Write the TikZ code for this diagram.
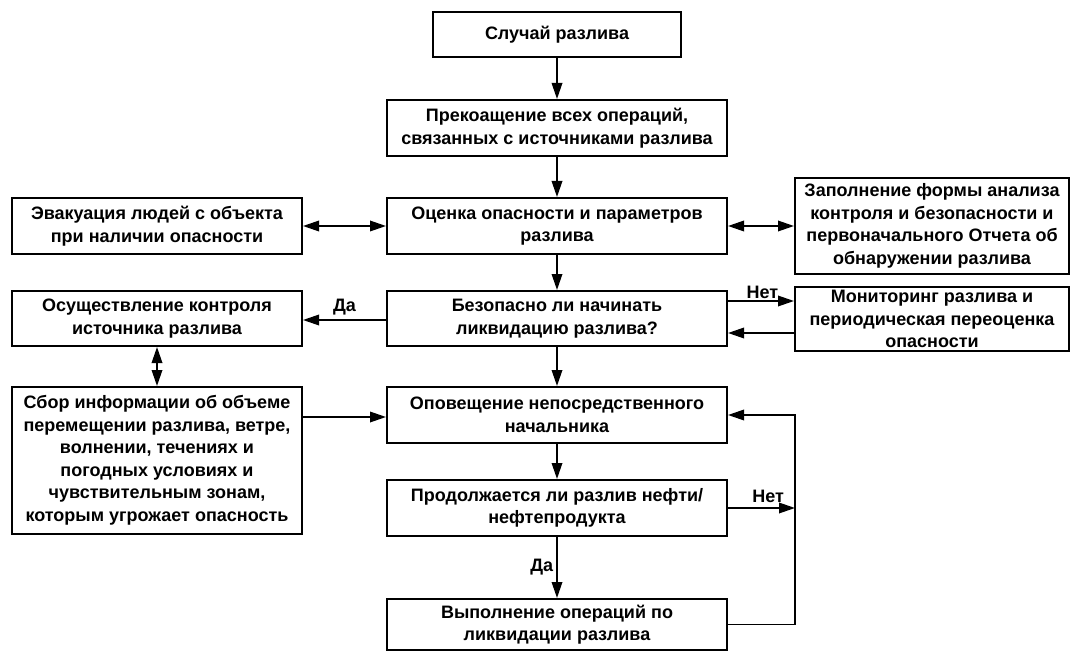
\documentclass[tikz,border=0pt]{standalone}
\usepackage{fontspec}
\setmainfont{Liberation Sans}
\usepackage{tikz}
\usetikzlibrary{arrows.meta, calc}

\begin{document}
\begin{tikzpicture}[x=1pt, y=-1pt, line width=1.8pt,
		box/.style={draw, line width=2pt, align=center, inner sep=2pt, font=\fontsize{18}{22.5}\selectfont\bfseries},
		arr/.style={-{Triangle[length=16pt, width=10.5pt]}},
		darr/.style={{Triangle[length=16pt, width=10.5pt]}-{Triangle[length=16pt, width=10.5pt]}},
		lbl/.style={font=\fontsize{18}{20}\selectfont\bfseries, inner sep=1pt}]
		\useasboundingbox (0,0) rectangle (1070,652);

		% middle column
		\node[box, minimum width=248pt, minimum height=45pt] (spill) at (557,34.5) {Случай разлива};
		\node[box, minimum width=340pt, minimum height=56pt] (stop) at (557,128) {Прекоащение всех операций,\\связанных с источниками разлива};
		\node[box, minimum width=340pt, minimum height=56pt] (assess) at (557,226) {Оценка опасности и параметров\\разлива};
		\node[box, minimum width=340pt, minimum height=55pt] (safe) at (557,318.5) {Безопасно ли начинать\\ликвидацию разлива?};
		\node[box, minimum width=340pt, minimum height=56pt] (notify) at (557,415) {Оповещение непосредственного\\начальника};
		\node[box, minimum width=340pt, minimum height=56pt] (cont) at (557,508) {Продолжается ли разлив нефти/\\нефтепродукта};
		\node[box, minimum width=340pt, minimum height=51pt] (clean) at (557,624.5) {Выполнение операций по\\ликвидации разлива};

		% left column
		\node[box, minimum width=290pt, minimum height=56pt] (evac) at (157,226) {Эвакуация людей с объекта\\при наличии опасности};
		\node[box, minimum width=290pt, minimum height=55pt] (source) at (157,318.5) {Осуществление контроля\\источника разлива};
		\node[box, minimum width=290pt, minimum height=147pt] (info) at (157,460.5) {Сбор информации об объеме\\перемещении разлива, ветре,\\волнении, течениях и\\погодных условиях и\\чувствительным зонам,\\которым угрожает опасность};

		% right column
		\node[box, minimum width=274pt, minimum height=96pt] (form) at (932,226) {Заполнение формы анализа\\контроля и безопасности и\\первоначального Отчета об\\обнаружении разлива};
		\node[box, minimum width=274pt, minimum height=64pt] (monitor) at (932,319) {Мониторинг разлива и\\периодическая переоценка\\опасности};

		\coordinate (loop) at (795,508);

		\draw[arr] (spill) -- (stop);
		\draw[arr] (stop) -- (assess);
		\draw[arr] (assess) -- (safe);
		\draw[arr] (safe) -- (notify);
		\draw[arr] (notify) -- (cont);
		\draw[arr] (cont) -- node[lbl, left=2pt] {Да} (clean);

		\draw[darr] (evac) -- (assess);
		\draw[darr] (assess) -- (form);
		\draw[arr] (safe.west |- 0,320) -- node[lbl, above=3pt] {Да} (source.east |- 0,320);
		\draw[arr] (safe.east |- 0,301) -- node[lbl, above, pos=0.52] {Нет} (monitor.west |- 0,301);
		\draw[arr] (monitor.west |- 0,333) -- (safe.east |- 0,333);
		\draw[darr] (source) -- (info);
		\draw[arr] (info.east |- 0,417) -- (notify.west |- 0,417);

		\draw[arr] (cont.east) -- node[lbl, above=3pt, pos=0.6] {Нет} (loop);
		\draw[arr] (clean.east) -| (loop) |- (notify.east);
	\end{tikzpicture}
\end{document}
